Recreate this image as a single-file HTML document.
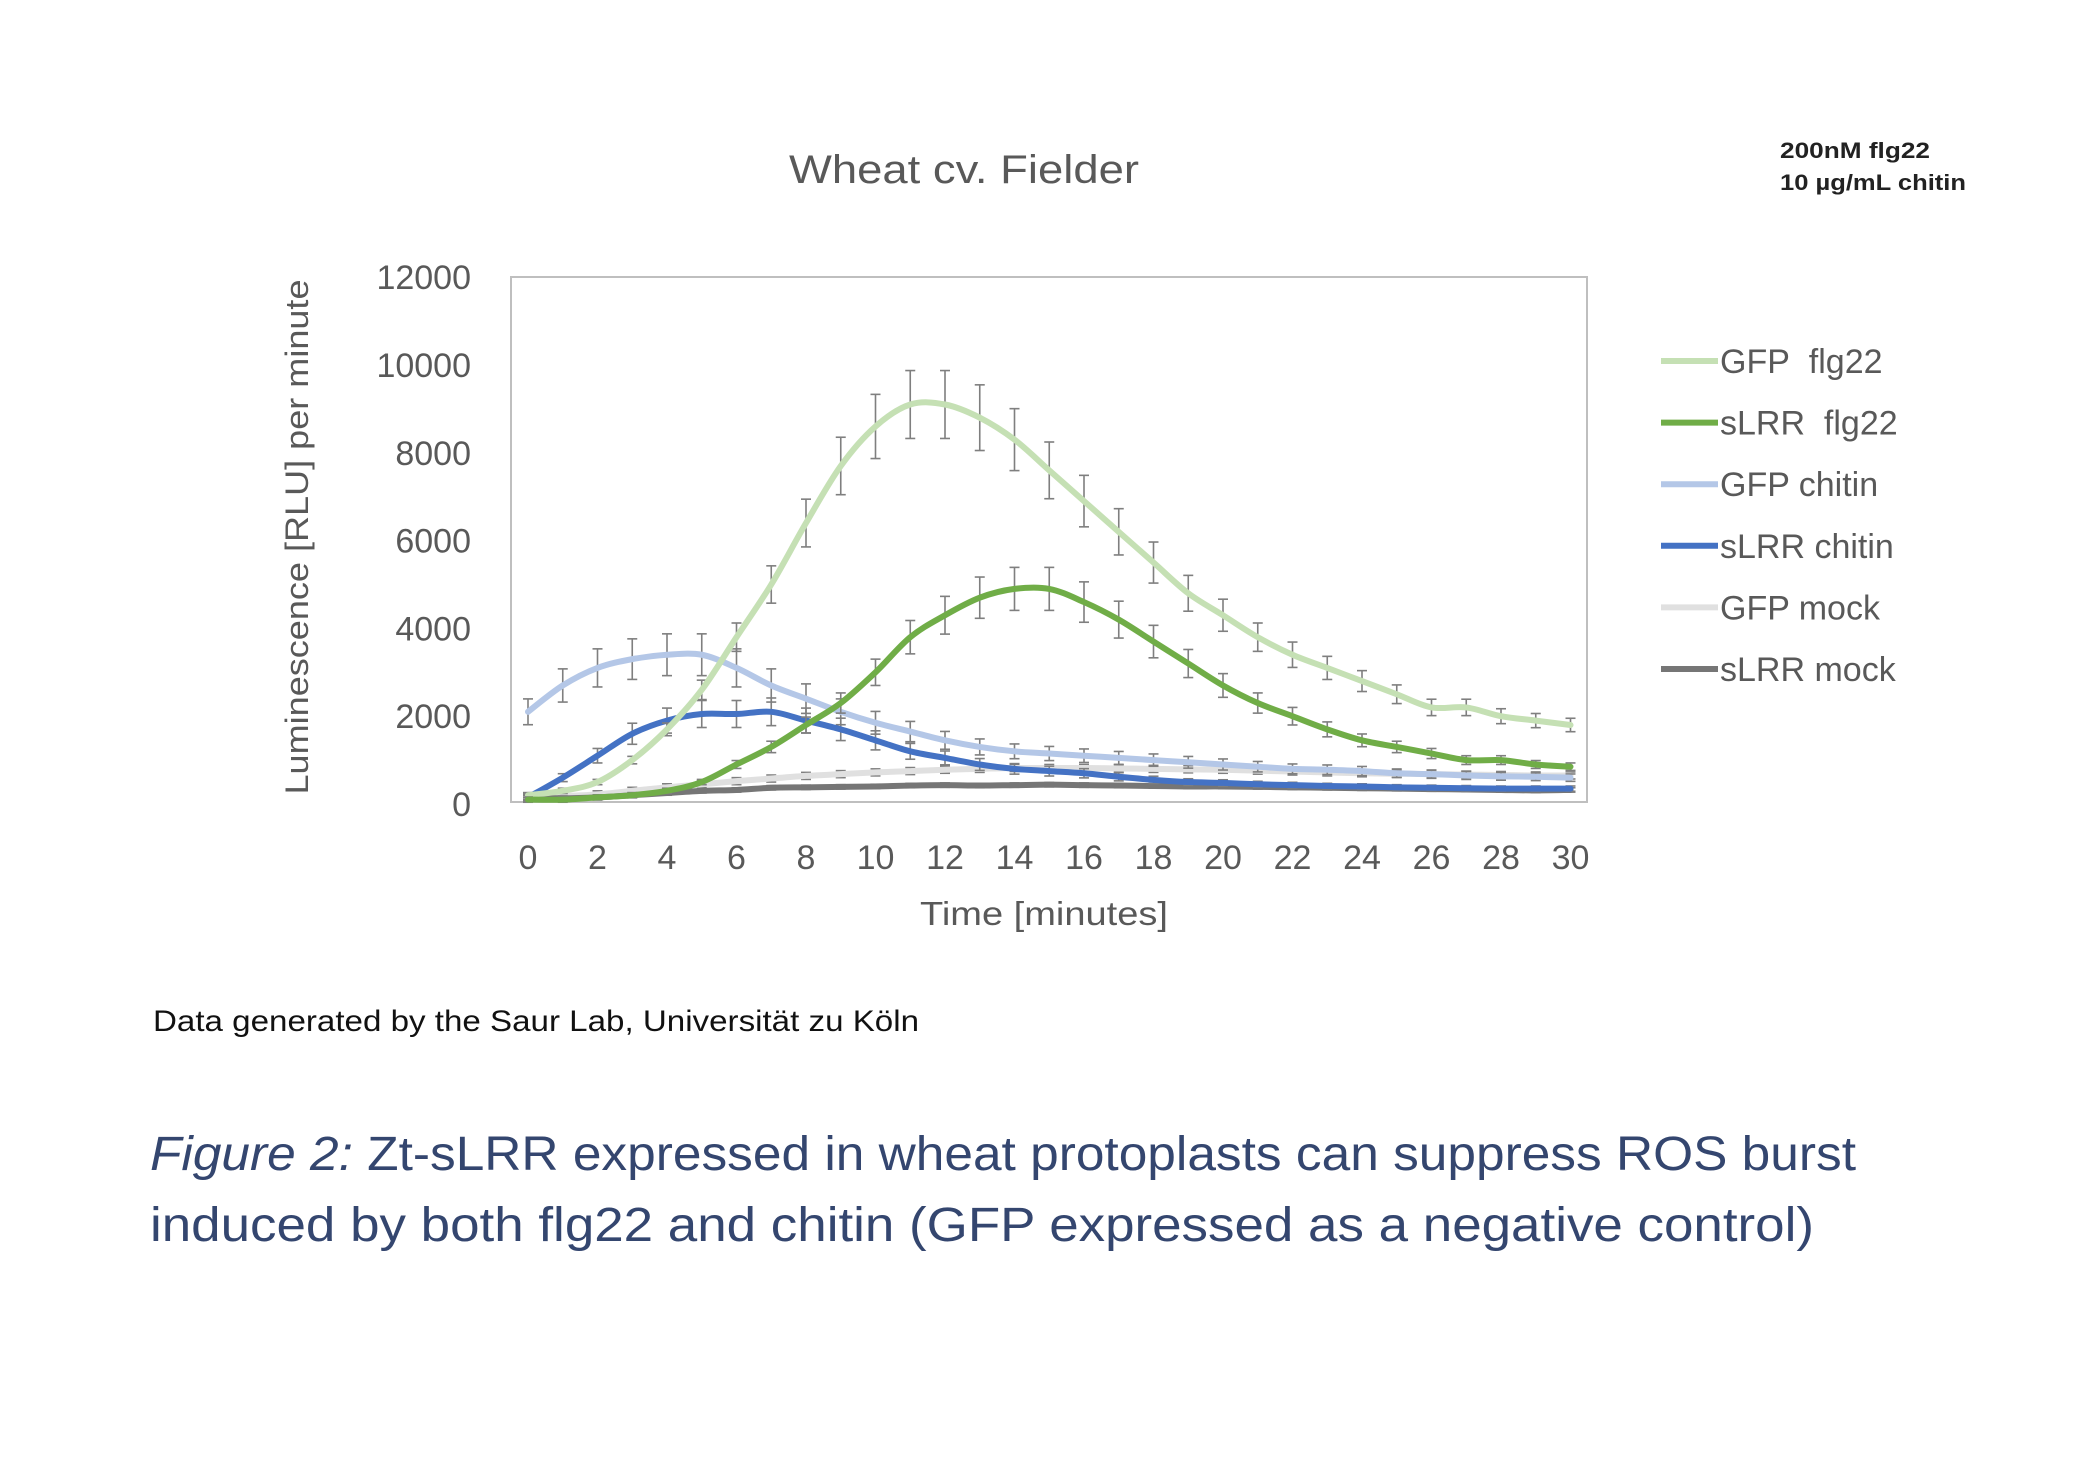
<!DOCTYPE html>
<html><head><meta charset="utf-8">
<style>html,body{margin:0;padding:0;background:#fff;}svg{display:block;}</style>
</head><body>
<svg id="s" width="2095" height="1467" xmlns="http://www.w3.org/2000/svg" font-family="Liberation Sans, sans-serif">
<rect width="2095" height="1467" fill="#fff"/>
<text x="964" y="183" font-size="40" fill="#595959" text-anchor="middle" textLength="350" lengthAdjust="spacingAndGlyphs">Wheat cv. Fielder</text>
<text x="1780" y="158" font-size="22" font-weight="bold" fill="#222" textLength="150" lengthAdjust="spacingAndGlyphs">200nM flg22</text>
<text x="1780" y="190" font-size="22" font-weight="bold" fill="#222" textLength="186" lengthAdjust="spacingAndGlyphs">10 µg/mL chitin</text>
<rect x="511" y="277" width="1076" height="525" fill="none" stroke="#bfbfbf" stroke-width="2"/>
<g id="yt" font-size="34" fill="#595959" text-anchor="end"></g>
<g id="xt" font-size="34" fill="#595959" text-anchor="middle"></g>
<text transform="translate(308,537) rotate(-90)" font-size="32" fill="#595959" text-anchor="middle" textLength="515" lengthAdjust="spacingAndGlyphs">Luminescence [RLU] per minute</text>
<text x="1044" y="925" font-size="33" fill="#595959" text-anchor="middle" textLength="248" lengthAdjust="spacingAndGlyphs">Time [minutes]</text>
<g id="plot"></g>
<g id="leg" font-size="34" fill="#595959"></g>
<text x="153" y="1031" font-size="30" fill="#111" textLength="766" lengthAdjust="spacingAndGlyphs">Data generated by the Saur Lab, Universität zu Köln</text>
<text x="150" y="1170" font-size="48" fill="#34466f" textLength="1706" lengthAdjust="spacingAndGlyphs"><tspan font-style="italic">Figure 2:</tspan> Zt-sLRR expressed in wheat protoplasts can suppress ROS burst</text>
<text x="150" y="1241" font-size="48" fill="#34466f" textLength="1664" lengthAdjust="spacingAndGlyphs">induced by both flg22 and chitin (GFP expressed as a negative control)</text>
</svg>
<script>
var NS="http://www.w3.org/2000/svg";
function el(t,a,p,txt){var e=document.createElementNS(NS,t);for(var k in a)e.setAttribute(k,a[k]);if(txt!=null)e.textContent=txt;p.appendChild(e);return e;}
var X=function(t){return 528+t*34.75;},Y=function(v){return 804-v*0.0439;};
var yt=document.getElementById('yt');for(var v=0;v<=12000;v+=2000)el('text',{x:471,y:Y(v)+12},yt,v);
var xt=document.getElementById('xt');for(var t=0;t<=30;t+=2)el('text',{x:X(t),y:869},xt,t);
var S=[
["#e0e0e0",[150,180,220,300,380,450,520,580,640,680,720,750,780,800,820,820,820,810,800,790,780,760,740,720,700,690,680,670,660,650,650],80],
["#767676",[150,130,150,200,250,300,320,370,380,390,400,420,430,420,430,440,430,420,410,400,400,390,380,370,360,350,340,330,320,310,320],50],
["#b4c7e7",[2100,2700,3100,3300,3400,3400,3100,2700,2400,2100,1850,1650,1450,1300,1200,1150,1100,1050,1000,950,900,850,800,780,750,700,680,650,630,620,600],0.14],
["#4472c4",[150,600,1100,1600,1900,2050,2050,2100,1900,1700,1450,1200,1050,900,800,750,700,620,550,500,480,450,430,410,400,380,370,360,350,350,350],0.15],
["#c5e0b4",[200,300,500,1000,1700,2600,3800,5000,6400,7700,8600,9100,9100,8800,8300,7600,6900,6200,5500,4800,4300,3800,3400,3100,2800,2500,2200,2200,2000,1900,1800],0.085],
["#70ad47",[100,100,150,200,300,500,900,1300,1800,2300,3000,3800,4300,4700,4900,4900,4600,4200,3700,3200,2700,2300,2000,1700,1450,1300,1150,1000,1000,900,850],0.1]
];
var plot=document.getElementById('plot');
S.forEach(function(s){
 var d=s[1],pts=d.map(function(v,i){return [X(i),Y(v)];});
 var p="M"+pts[0][0]+","+pts[0][1];
 for(var i=0;i<pts.length-1;i++){var p0=pts[Math.max(i-1,0)],p1=pts[i],p2=pts[i+1],p3=pts[Math.min(i+2,pts.length-1)];
  p+=" C"+(p1[0]+(p2[0]-p0[0])/6)+","+(p1[1]+(p2[1]-p0[1])/6)+" "+(p2[0]-(p3[0]-p1[0])/6)+","+(p2[1]-(p3[1]-p1[1])/6)+" "+p2[0]+","+p2[1];}
 d.forEach(function(v,i){var e=s[2]<1?Math.max(v*s[2],60):s[2];var x=X(i);
  var g=el('g',{stroke:"#7f7f7f","stroke-width":1.6},plot);
  el('line',{x1:x,x2:x,y1:Y(v+e),y2:Y(v-e)},g);el('line',{x1:x-5,x2:x+5,y1:Y(v+e),y2:Y(v+e)},g);el('line',{x1:x-5,x2:x+5,y1:Y(v-e),y2:Y(v-e)},g);});
 el('path',{d:p,fill:"none",stroke:s[0],"stroke-width":6,"stroke-linecap":"round"},plot);
});
var L=[["#c5e0b4","GFP\u00a0 flg22"],["#70ad47","sLRR\u00a0 flg22"],["#b4c7e7","GFP chitin"],["#4472c4","sLRR chitin"],["#e0e0e0","GFP mock"],["#767676","sLRR mock"]];
var leg=document.getElementById('leg');
L.forEach(function(l,i){var y=361+i*61.6;el('line',{x1:1661,x2:1718,y1:y,y2:y,stroke:l[0],"stroke-width":6},leg);el('text',{x:1720,y:y+12},leg,l[1]);});
</script>
</body></html>
